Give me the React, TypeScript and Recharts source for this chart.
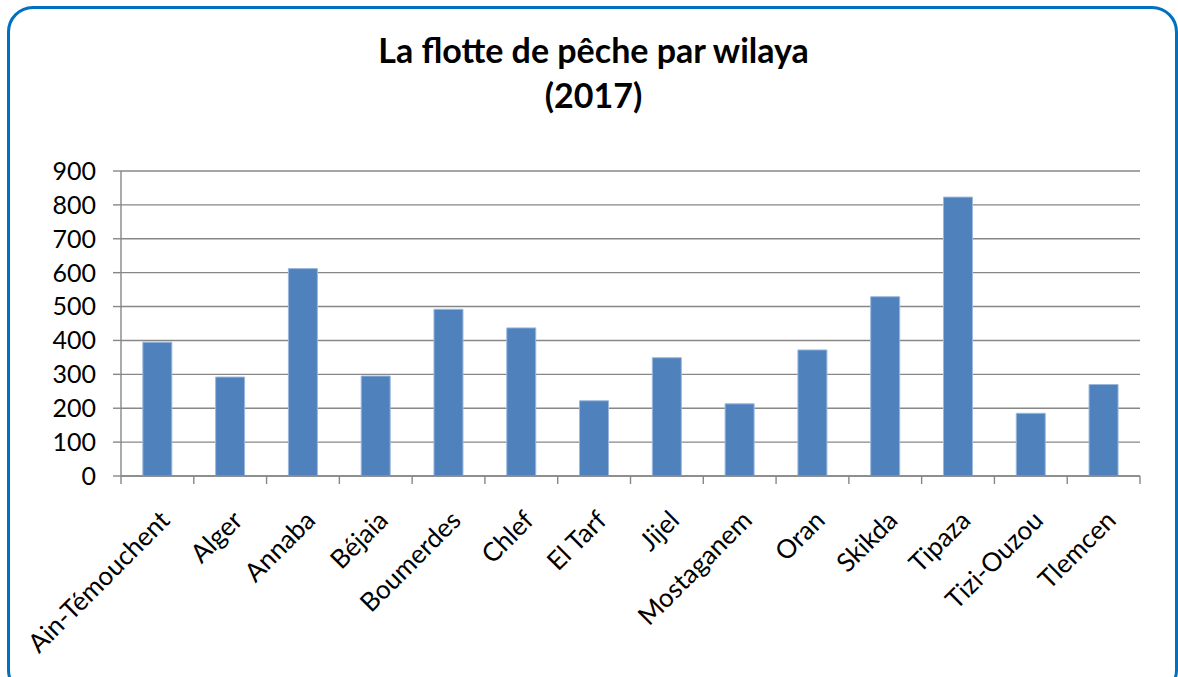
import React from "react";
import { BarChart, Bar, XAxis, YAxis, CartesianGrid } from "recharts";

const categories = [
  "Ain-Témouchent",
  "Alger",
  "Annaba",
  "Béjaia",
  "Boumerdes",
  "Chlef",
  "El Tarf",
  "Jijel",
  "Mostaganem",
  "Oran",
  "Skikda",
  "Tipaza",
  "Tizi-Ouzou",
  "Tlemcen",
];
const fleet = [395, 292, 612, 295, 492, 437, 222, 349, 213, 372, 529, 823, 185, 270];
const yTicks = [0, 100, 200, 300, 400, 500, 600, 700, 800, 900];
const titleLines = ["La flotte de pêche par wilaya", "(2017)"];

const data = categories.map((name, i) => ({ name, value: fleet[i], idx: i + 0.5 }));
const boundaryTicks = categories.map((_, i) => i).concat([categories.length]);

const FONT = "Lato, 'DejaVu Sans', sans-serif";

const XTick = (props: any) => {
  const { x, y, payload } = props;
  return (
    <g transform={`translate(${x + 14},${y + 45})`}>
      <text
        x={0}
        y={0}
        textAnchor="end"
        transform="rotate(-45)"
        fontFamily={FONT}
        fontSize={26}
        fill="#000"
      >
        {payload.value}
      </text>
    </g>
  );
};

const EmptyTick = () => <g />;

export default function App() {
  return (
    <div
      style={{
        position: "absolute",
        left: 0,
        top: 0,
        width: 1178,
        height: 677,
        overflow: "hidden",
        background: "#fff",
      }}
    >
      <div
        style={{
          position: "absolute",
          left: 7,
          top: 6,
          width: 1171,
          height: 690,
          border: "3px solid #0070C0",
          borderRadius: 26,
          boxSizing: "border-box",
        }}
      />
      <div
        style={{
          position: "absolute",
          left: 0,
          top: 27,
          width: 1187,
          textAlign: "center",
          fontFamily: FONT,
          fontWeight: 700,
          fontSize: 34,
          lineHeight: "45px",
          color: "#000",
        }}
      >
        {titleLines.map((t) => (
          <div key={t}>{t}</div>
        ))}
      </div>
      <div style={{ position: "absolute", left: 0, top: 0 }}>
        <BarChart
          width={1178}
          height={677}
          data={data}
          margin={{ top: 171, right: 38, left: 0, bottom: 0 }}
          barCategoryGap="30%"
        >
          <CartesianGrid
            horizontal={true}
            vertical={false}
            stroke="#878787"
            strokeWidth={1.4}
            xAxisId="cat"
          />
          <XAxis
            xAxisId="bounds"
            type="number"
            dataKey="idx"
            domain={[0, categories.length]}
            ticks={boundaryTicks}
            interval={0}
            tick={<EmptyTick />}
            tickSize={8}
            height={1}
            axisLine={{ stroke: "#878787", strokeWidth: 1.4 }}
            tickLine={{ stroke: "#878787", strokeWidth: 1.4 }}
            allowDataOverflow
          />
          <XAxis
            xAxisId="cat"
            dataKey="name"
            type="category"
            interval={0}
            height={200}
            axisLine={false}
            tickLine={false}
            tickSize={0}
            tickMargin={0}
            tick={<XTick />}
          />
          <YAxis
            width={121}
            domain={[0, 900]}
            ticks={yTicks}
            interval={0}
            tickSize={8}
            tickMargin={17}
            axisLine={{ stroke: "#878787", strokeWidth: 1.4 }}
            tickLine={{ stroke: "#878787", strokeWidth: 1.4 }}
            tick={{ fontFamily: FONT, fontSize: 25, fill: "#000" }}
          />
          <Bar
            xAxisId="cat"
            dataKey="value"
            fill="#4F81BD"
            stroke="#9CB8DD"
            strokeWidth={1}
            isAnimationActive={false}
          />
        </BarChart>
      </div>
    </div>
  );
}
